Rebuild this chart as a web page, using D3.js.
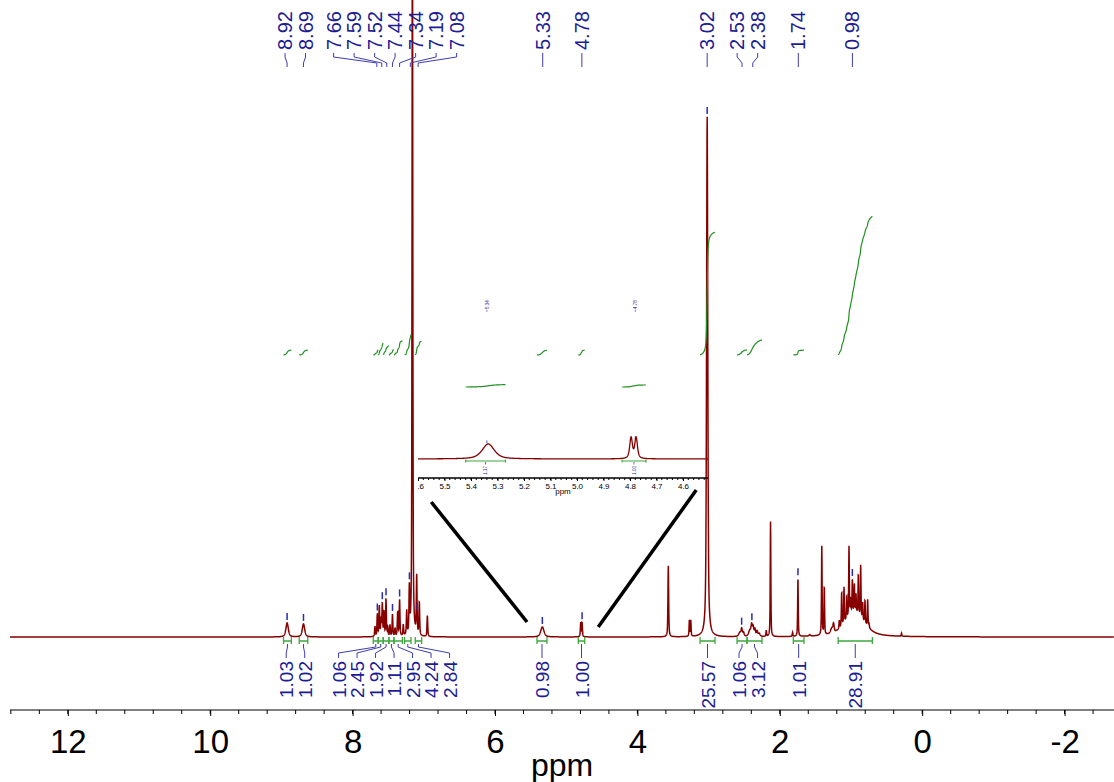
<!DOCTYPE html>
<html>
<head>
<meta charset="utf-8">
<script src="https://cdnjs.cloudflare.com/ajax/libs/d3/7.8.5/d3.min.js"></script>
<style>
  body { margin: 0; background: #fff; }
  svg { display: block; font-family: "Liberation Sans", Arial, Helvetica, sans-serif; }
</style>
</head>
<body>
<svg id="chart" width="1114" height="782"></svg>
<script>
// peak list: shift (ppm), height (px above baseline), half width (ppm)
const peakPpm = [8.92, 8.69,
  7.686, 7.653, 7.625, 7.601, 7.583, 7.559, 7.531, 7.507, 7.475, 7.44, 7.404, 7.367, 7.34,
  7.288, 7.24, 7.203, 7.16, 7.10, 7.063, 6.95,
  5.335, 4.796, 4.777,
  3.566, 3.27, 3.25, 3.02,
  2.56, 2.535, 2.51, 2.42, 2.395, 2.375, 2.35, 2.32, 2.29,
  2.19, 2.13, 1.82, 1.745, 1.58, 1.41, 1.375, 1.27, 1.245,
  1.164, 1.131, 1.098, 1.061, 1.028, 1.005, 0.981, 0.953, 0.930, 0.897, 0.864, 0.836, 0.803, 0.766, 0.747,
  0.95, 0.29]
const peakHeight = [14, 13,
  10, 22, 30, 16, 32, 24, 37, 9, 11, 22, 8, 24, 36,
  11, 24, 46, 760, 58, 33, 21,
  10, 14, 14,
  71, 16, 16, 520,
  4, 7, 4, 6, 10, 9, 7, 5, 3,
  6, 115, 4, 58, 1.5, 89, 48, 5, 8,
  8, 34, 36, 23, 70, 15, 33, 28, 18, 40, 52, 17, 23, 27, 4,
  24, 3]
const peakWidth = [0.02, 0.02,
  0.006, 0.006, 0.006, 0.006, 0.006, 0.006, 0.006, 0.006, 0.006, 0.006, 0.006, 0.006, 0.006,
  0.006, 0.006, 0.006, 0.006, 0.006, 0.006, 0.006,
  0.027, 0.006, 0.006,
  0.006, 0.005, 0.005, 0.01,
  0.02, 0.01, 0.01, 0.02, 0.01, 0.01, 0.01, 0.01, 0.015,
  0.005, 0.005, 0.005, 0.005, 0.01, 0.005, 0.005, 0.02, 0.01,
  0.005, 0.005, 0.005, 0.005, 0.005, 0.005, 0.005, 0.005, 0.005, 0.005, 0.005, 0.005, 0.005, 0.005, 0.005,
  0.16, 0.005]

// picked shifts printed across the top
const shiftLabels = [8.92, 8.69, 7.66, 7.59, 7.52, 7.44, 7.34, 7.19, 7.08, 5.33, 4.78, 3.02, 2.53, 2.38, 1.74, 0.98]

// integrals: from / to (ppm) and printed value
const integralFrom = [8.97, 8.75, 7.71, 7.64, 7.57, 7.49, 7.42, 7.27, 7.12, 5.41, 4.83, 3.12, 2.60, 2.46, 1.81, 1.18]
const integralTo = [8.86, 8.63, 7.64, 7.57, 7.49, 7.42, 7.30, 7.18, 7.03, 5.27, 4.74, 2.91, 2.46, 2.25, 1.66, 0.70]
const integralValue = ["1.03", "1.02", "1.06", "2.45", "1.92", "1.11", "2.95", "4.24", "2.84", "0.98", "1.00", "25.57", "1.06", "3.12", "1.01", "28.91"]

// inset (5.6 - 4.5 ppm)
const insetShiftLabels = [5.34, 4.78]
const insetIntFrom = [5.42, 4.83]
const insetIntTo = [5.27, 4.74]
const insetIntValue = ["1.17", "1.00"]

const xTicks = [12, 10, 8, 6, 4, 2, 0, -2]
const insetTicks = [5.6, 5.5, 5.4, 5.3, 5.2, 5.1, 5.0, 4.9, 4.8, 4.7, 4.6]

const W = 1114, H = 782
const svg = d3.select("#chart")
const red = "#870000", green = "#1f8f1f", lightGreen = "#3ea83e", blue = "#1c1c96", leader = "#3d3db0"

const x = d3.scaleLinear().domain([12.812, -2.694]).range([10, W])
const y = d3.scaleLinear().domain([0, 637]).range([637, 0])

function shape(d, w) {
  const l = w * w / (w * w + d * d)
  const g = Math.exp(-Math.LN2 * d * d / (w * w))
  return 0.6 * l + 0.4 * g
}
function intensity(p) {
  let s = 0
  for (let i = 0; i < peakPpm.length; i++) s += peakHeight[i] * shape(p - peakPpm[i], peakWidth[i])
  return s
}
function sample(a, b, step) {
  const pts = []
  for (let p = a; p >= b; p -= step) pts.push([p, intensity(p)])
  return pts
}

// ---- main spectrum
const spectrum = sample(12.812, -2.694, 0.002)
const line = d3.line().x(d => x(d[0])).y(d => y(d[1]))
svg.append("path").attr("d", line(spectrum))
  .attr("fill", "none").attr("stroke", red).attr("stroke-width", 1.5)

// ---- axis
const axis = d3.axisBottom(x).tickValues(xTicks).tickSize(6).tickFormat(d => String(d))
const gx = svg.append("g").attr("transform", "translate(0,710)").call(axis)
gx.select(".domain").attr("d", `M10,0H${W}`)
gx.selectAll(".tick text").attr("font-size", 33).attr("dy", 0).attr("y", 43)
  .attr("font-family", "Liberation Sans, Arial, sans-serif")
const minor = d3.range(12.8, -2.7, -0.4).map(v => Math.round(v * 10) / 10)
gx.selectAll(".minor").data(minor).enter().append("line")
  .attr("x1", d => x(d)).attr("x2", d => x(d)).attr("y1", 0).attr("y2", 4).attr("stroke", "#000")
svg.append("text").attr("x", (10 + W) / 2).attr("y", 776).attr("text-anchor", "middle")
  .attr("font-size", 32).text("ppm")

// label spreading: keeps labels at least `gap` apart, groups centred on their peaks
function spread(xs, gap) {
  let groups = xs.map((v, i) => ({ idx: [i], vals: [v] }))
  groups.sort((a, b) => a.vals[0] - b.vals[0])
  const pos = g => { const m = d3.mean(g.vals); return g.vals.map((_, k) => m + (k - (g.vals.length - 1) / 2) * gap) }
  let merged = true
  while (merged) {
    merged = false
    for (let i = 0; i < groups.length - 1; i++) {
      const a = pos(groups[i]), b = pos(groups[i + 1])
      if (b[0] - a[a.length - 1] < gap) {
        groups[i] = { idx: groups[i].idx.concat(groups[i + 1].idx), vals: groups[i].vals.concat(groups[i + 1].vals) }
        groups.splice(i + 1, 1)
        merged = true
        break
      }
    }
  }
  const out = []
  groups.forEach(g => { const p = pos(g); g.idx.forEach((id, k) => out[id] = p[k]) })
  return out
}

// ---- top shift labels
const topX = spread(shiftLabels.map(d => x(d)), 20.5)
shiftLabels.forEach((s, i) => {
  const px = x(s), lx = topX[i]
  svg.append("text").attr("transform", `translate(${lx + 7},50) rotate(-90)`)
    .attr("font-size", 20).attr("fill", blue).text(s.toFixed(2))
  svg.append("path").attr("d", `M${lx},53V57L${px},63V67`).attr("fill", "none")
    .attr("stroke", leader).attr("stroke-width", 1)
  // pick marker above the peak
  let best = px, top = 0
  for (let p = s + 0.012; p >= s - 0.012; p -= 0.001) { const v = intensity(p); if (v > top) { top = v; best = x(p) } }
  svg.append("line").attr("x1", best).attr("x2", best).attr("y1", y(top) - 10).attr("y2", y(top) - 3)
    .attr("stroke", "#2a2ab8").attr("stroke-width", 1.5)
})

// ---- integrals
const intX = integralFrom.map((a, i) => x((a + integralTo[i]) / 2))
const botX = spread(intX, 18.5)
integralFrom.forEach((a, i) => {
  const b = integralTo[i], v = +integralValue[i]
  const xa = x(a), xb = x(b)
  svg.append("path").attr("d", `M${xa},637V644M${xa},641H${xb}M${xb},637V644`)
    .attr("fill", "none").attr("stroke", lightGreen).attr("stroke-width", 1.3)
  svg.append("path").attr("d", `M${intX[i]},644V647L${botX[i]},653V658`).attr("fill", "none")
    .attr("stroke", leader).attr("stroke-width", 1)
  svg.append("text").attr("transform", `translate(${botX[i] + 7},661) rotate(-90)`)
    .attr("text-anchor", "end").attr("font-size", 19).attr("fill", blue).text(integralValue[i])
  // integral curve
  const pts = sample(a, b, 0.001)
  let cum = 0
  const c = pts.map(d => { cum += d[1]; return [d[0], cum] })
  const total = cum
  svg.append("path").attr("d", d3.line().x(d => x(d[0])).y(d => 355 - d[1] / total * v * 4.8)(c))
    .attr("fill", "none").attr("stroke", green).attr("stroke-width", 1.2)
})

// ---- inset
const xi = d3.scaleLinear().domain([5.6, 4.5057]).range([418, 708])
const yi = d3.scaleLinear().domain([0, 637]).range([459, 459 - 637 * 1.5])
svg.append("clipPath").attr("id", "insetClip").append("rect")
  .attr("x", 418).attr("y", 280).attr("width", 290).attr("height", 220)
const inset = svg.append("g").attr("clip-path", "url(#insetClip)")
const insetData = sample(5.6, 4.505, 0.0005)
inset.append("path").attr("d", d3.line().x(d => xi(d[0])).y(d => yi(d[1]))(insetData))
  .attr("fill", "none").attr("stroke", red).attr("stroke-width", 1.3)

const ia = d3.axisBottom(xi).tickValues(insetTicks).tickSize(3).tickFormat(d3.format(".1f"))
const gi = inset.append("g").attr("transform", "translate(0,478)").call(ia)
gi.select(".domain").attr("d", "M418,0H708").attr("stroke-width", 1.5)
gi.selectAll(".tick text").attr("font-size", 8).attr("y", 5).attr("dy", "0.71em")
gi.selectAll(".mt").data(d3.range(5.6, 4.5, -0.02)).enter().append("line")
  .attr("x1", d => xi(d)).attr("x2", d => xi(d)).attr("y1", 0).attr("y2", 2).attr("stroke", "#000")
svg.append("text").attr("x", 563).attr("y", 494).attr("text-anchor", "middle").attr("font-size", 8).text("ppm")

insetShiftLabels.forEach(s => {
  const px = xi(s)
  svg.append("text").attr("transform", `translate(${px + 1.6},309) rotate(-90)`)
    .attr("font-size", 4.5).attr("fill", blue).text(s.toFixed(2))
  svg.append("line").attr("x1", px).attr("x2", px).attr("y1", 309.5).attr("y2", 312)
    .attr("stroke", leader).attr("stroke-width", 0.6)
  const top = intensity(s)
  svg.append("line").attr("x1", px).attr("x2", px).attr("y1", yi(top) - 4).attr("y2", yi(top) - 1)
    .attr("stroke", "#2a2ab8").attr("stroke-width", 0.8)
})
insetIntFrom.forEach((a, i) => {
  const b = insetIntTo[i], xa = xi(a), xb = xi(b), cx = xi((a + b) / 2)
  svg.append("path").attr("d", `M${xa},459.5V462.5M${xa},461H${xb}M${xb},459.5V462.5`)
    .attr("fill", "none").attr("stroke", lightGreen).attr("stroke-width", 1.2)
  svg.append("line").attr("x1", cx).attr("x2", cx).attr("y1", 462).attr("y2", 464.5)
    .attr("stroke", leader).attr("stroke-width", 0.8)
  svg.append("text").attr("transform", `translate(${cx + 1.6},466) rotate(-90)`)
    .attr("text-anchor", "end").attr("font-size", 4.5).attr("fill", blue).text(insetIntValue[i])
  const pts = sample(a, b, 0.0005)
  let cum = 0
  const c = pts.map(d => { cum += d[1]; return [d[0], cum] })
  const total = cum
  svg.append("path").attr("d", d3.line().x(d => xi(d[0])).y(d => 387 - d[1] / total * +insetIntValue[i] * 2)(c))
    .attr("fill", "none").attr("stroke", green).attr("stroke-width", 1.2)
})

// ---- zoom guide lines (inset edge -> same shift on the main trace)
svg.append("line").attr("x1", xi(5.55)).attr("y1", 502).attr("x2", x(5.55)).attr("y2", 622)
  .attr("stroke", "#000").attr("stroke-width", 3.5)
svg.append("line").attr("x1", xi(4.55)).attr("y1", 490).attr("x2", x(4.55)).attr("y2", 627)
  .attr("stroke", "#000").attr("stroke-width", 3.5)
</script>
</body>
</html>
